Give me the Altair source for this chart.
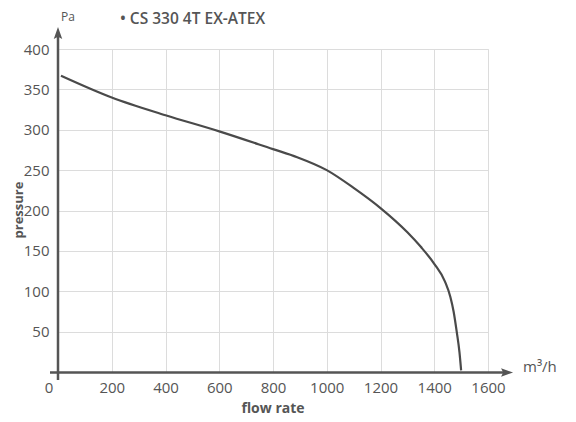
import altair as alt
import pandas as pd

# Curve data
flow = [11, 200, 400, 600, 800, 890, 1000, 1100, 1200, 1300, 1350, 1400, 1440, 1460, 1472, 1484, 1494, 1500]
pressure = [367, 340, 318, 298, 276, 266, 250, 228, 203, 173, 155, 134, 112, 93, 75, 49, 24, 2]

x_ticks = [200, 400, 600, 800, 1000, 1200, 1400, 1600]
y_ticks = [50, 100, 150, 200, 250, 300, 350, 400]

title_text = "\u2022 CS 330 4T EX-ATEX"
y_unit = "Pa"
x_unit = "m\u00b3/h"
y_title = "pressure"
x_title = "flow rate"

W, H = 430, 323
FONT = "Open Sans"
TXT = "#555555"
AX = "#555555"

df = pd.DataFrame({"flow": flow, "pressure": pressure})

xs = alt.Scale(domain=[0, 1600], nice=False)
ys = alt.Scale(domain=[0, 400], nice=False)

base = alt.Chart(df)

curve = base.mark_line(color="#4a4a4a", strokeWidth=2.2, interpolate="monotone").encode(
    x=alt.X("flow:Q", scale=xs,
            axis=alt.Axis(values=x_ticks, title=None, domain=False, ticks=False, format="d",
                          grid=True, gridColor="#dcdcdc", gridWidth=1,
                          labelFont=FONT, labelFontSize=15, labelColor=TXT,
                          labelPadding=8, labelFlush=False)),
    y=alt.Y("pressure:Q", scale=ys,
            axis=alt.Axis(values=y_ticks, title=None, domain=False, ticks=False, format="d",
                          grid=True, gridColor="#dcdcdc", gridWidth=1,
                          labelFont=FONT, labelFontSize=15, labelColor=TXT,
                          labelPadding=9, labelFlush=False)),
)

one = pd.DataFrame({"a": [0]})
ob = alt.Chart(one)

y_axis_line = ob.mark_rule(color=AX, strokeWidth=2.5).encode(
    x=alt.value(0), y=alt.value(-15), y2=alt.value(H + 8))
x_axis_line = ob.mark_rule(color=AX, strokeWidth=2.5).encode(
    x=alt.value(-8), x2=alt.value(448), y=alt.value(H + 0.5))

arrow_path = "M0,-1L0.6,0.7L0,0.4L-0.6,0.7Z"
y_arrow = ob.mark_point(shape=arrow_path, filled=True, color=AX, opacity=1, size=200).encode(
    x=alt.value(0), y=alt.value(-15))
x_arrow = ob.mark_point(shape=arrow_path, filled=True, color=AX, opacity=1, size=200, angle=90).encode(
    x=alt.value(448), y=alt.value(H + 0.5))

zero_lbl = ob.mark_text(font=FONT, fontSize=15, color=TXT, align="center", baseline="middle").encode(
    x=alt.value(-9), y=alt.value(H + 16), text=alt.value("0"))

title_mark = ob.mark_text(font=FONT, fontSize=15.5, fontWeight=600, color=TXT, align="left",
                          baseline="alphabetic").encode(
    x=alt.value(62), y=alt.value(-25), text=alt.value(title_text))
pa_mark = ob.mark_text(font=FONT, fontSize=12, color=TXT, align="center", baseline="alphabetic").encode(
    x=alt.value(10), y=alt.value(-28), text=alt.value(y_unit))
unit_mark = ob.mark_text(font=FONT, fontSize=15, color=TXT, align="left", baseline="middle").encode(
    x=alt.value(465), y=alt.value(H - 5), text=alt.value(x_unit))
ytitle_mark = ob.mark_text(font=FONT, fontSize=13, fontWeight="bold", color=TXT, align="center",
                           baseline="middle", angle=270).encode(
    x=alt.value(-39), y=alt.value(161), text=alt.value(y_title))
xtitle_mark = ob.mark_text(font=FONT, fontSize=14, fontWeight="bold", color=TXT, align="center",
                           baseline="middle").encode(
    x=alt.value(215), y=alt.value(H + 37), text=alt.value(x_title))

chart = alt.layer(
    curve, y_axis_line, x_axis_line, y_arrow, x_arrow, zero_lbl,
    title_mark, pa_mark, unit_mark, ytitle_mark, xtitle_mark
).properties(
    width=W, height=H,
    autosize=alt.AutoSizeParams(type="none"),
    padding={"left": 50, "top": 41, "right": 80, "bottom": 50},
).configure_view(stroke=None).configure(background="white")

chart.save("out.html", embed_options={"renderer": "svg", "actions": False})
